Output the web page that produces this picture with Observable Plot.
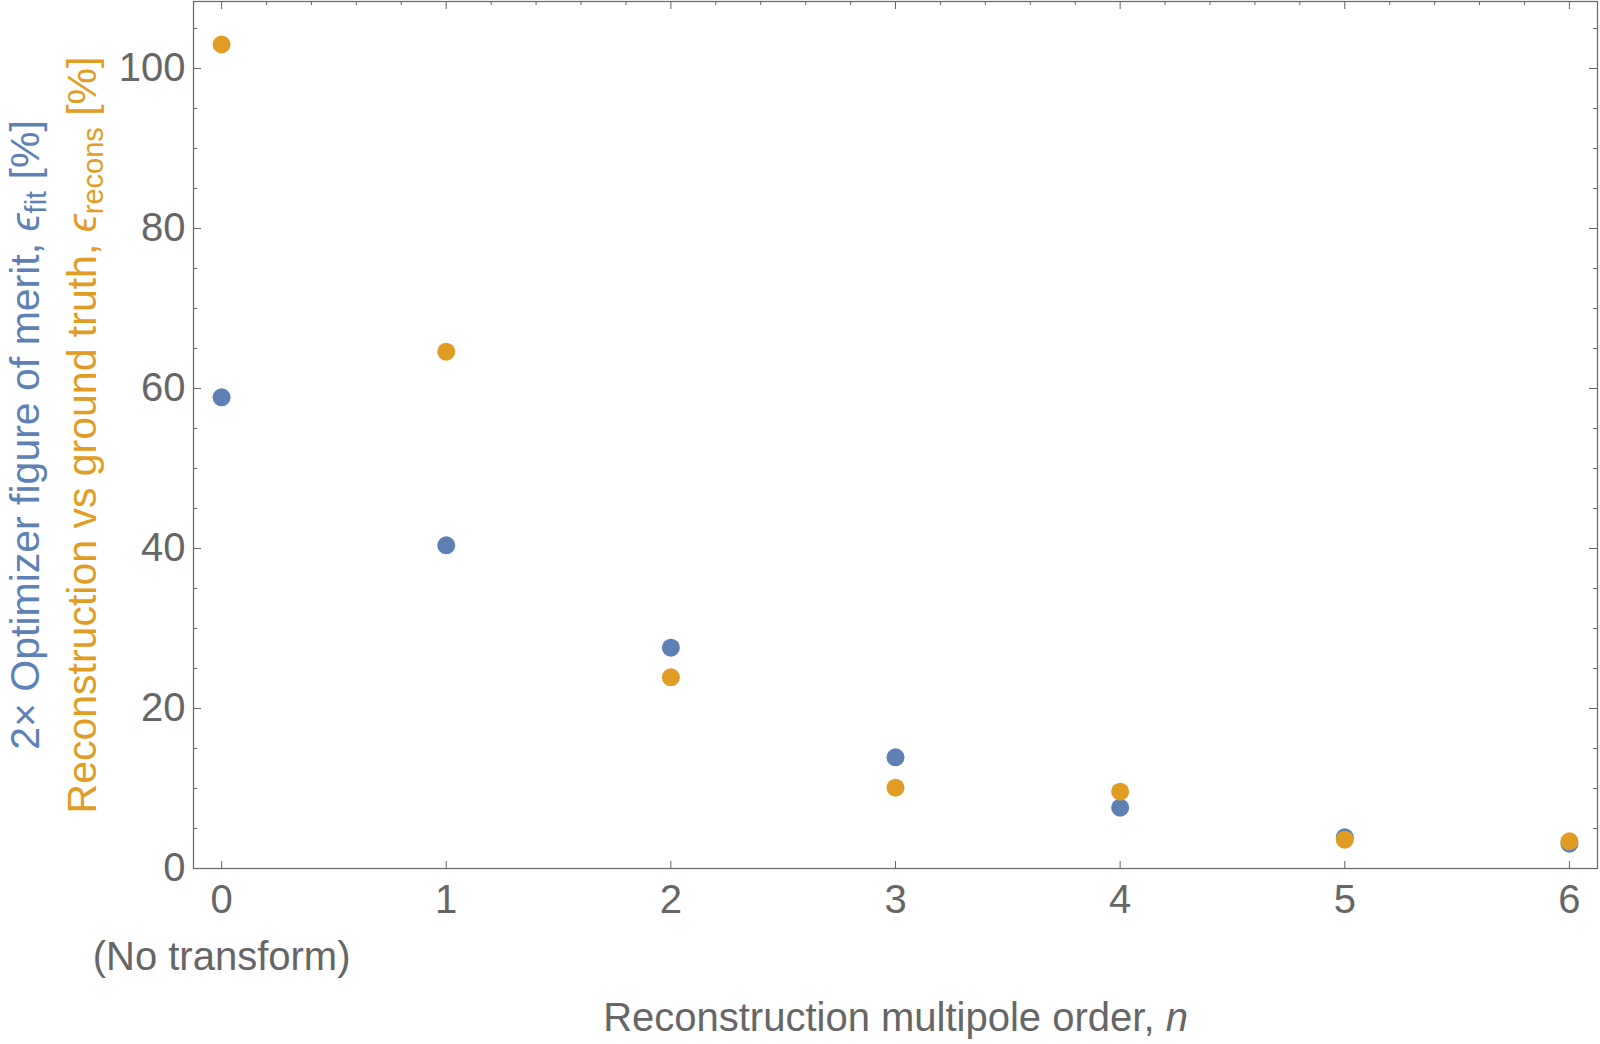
<!DOCTYPE html>
<html>
<head>
<meta charset="utf-8">
<script src="https://cdn.jsdelivr.net/npm/d3@7"></script>
<script src="https://cdn.jsdelivr.net/npm/@observablehq/plot@0.6"></script>
<style>
  html, body { margin: 0; padding: 0; background: #fff; }
</style>
</head>
<body>
<div id="chart"></div>
<script>
// ---- data ----
const order = [0, 1, 2, 3, 4, 5, 6];
const fitErr = [58.9, 40.4, 27.6, 13.9, 7.6, 3.9, 3.1];        // 2x optimizer figure of merit (blue)
const reconsErr = [103.0, 64.6, 23.9, 10.1, 9.6, 3.6, 3.4];    // reconstruction vs ground truth (orange)
const xTicks = [0, 1, 2, 3, 4, 5, 6];
const yTicks = [0, 20, 40, 60, 80, 100];
const yMinorTicks = d3.range(0, 106, 5).filter(v => v % 20 !== 0);
const xMinorTicks = d3.range(0, 31).map(i => i / 5).filter(v => !Number.isInteger(v));
const zeroNote = "(No transform)";
const labelFit = ["2× Optimizer figure of merit, ", "ϵ", "fit", " [%]"];
const labelRecons = ["Reconstruction vs ground truth, ", "ϵ", "recons", " [%]"];
const labelX = ["Reconstruction multipole order, ", "n"];

const blue = "#5E81B5";
const orange = "#E19C24";
const gray = "#666666";
const font = "Liberation Sans, Arial, Helvetica, sans-serif";

const rows = order.map((n, i) => ({n, fit: fitErr[i], recons: reconsErr[i]}));

const W = 1600, H = 1044, mL = 193, mR = 3, mT = 1, mB = 176;
const fw = W - mL - mR, fh = H - mT - mB;

const svg = Plot.plot({
  width: W, height: H,
  marginLeft: mL, marginRight: mR, marginTop: mT, marginBottom: mB,
  style: {fontFamily: font, fontSize: "40px", color: gray, background: "#fff"},
  x: {domain: [-0.125, 6.125]},
  y: {domain: [0, 108.375]},
  marks: [
    // ticks (inward, Mathematica-style frame ticks)
    Plot.tickX(xTicks, {x: d => d, stroke: gray, insetTop: fh - 7}),           // bottom
    Plot.tickX(xTicks, {x: d => d, stroke: gray, insetBottom: fh - 8}),        // top major
    Plot.tickX(xMinorTicks, {x: d => d, stroke: gray, insetBottom: fh - 4}),   // top minor
    Plot.tickY(yTicks, {y: d => d, stroke: gray, insetRight: fw - 8}),         // left major
    Plot.tickY(yMinorTicks, {y: d => d, stroke: gray, insetRight: fw - 4}),    // left minor
    Plot.tickY(yTicks, {y: d => d, stroke: gray, insetLeft: fw - 8}),          // right major
    Plot.tickY(yMinorTicks, {y: d => d, stroke: gray, insetLeft: fw - 4}),     // right minor
    Plot.frame({stroke: gray, strokeWidth: 1.2}),
    Plot.axisX({
      anchor: "bottom", ticks: xTicks, tickSize: 0, tickPadding: 4, label: null,
      tickFormat: d => d === 0 ? "0\n" + zeroNote : String(d),
      lineHeight: 1.425, fontSize: 40, fill: gray
    }),
    Plot.axisY({
      anchor: "left", ticks: yTicks, tickSize: 0, tickPadding: 8, label: null,
      tickFormat: d => String(d), fontSize: 40, fill: gray
    }),
    Plot.dot(rows, {x: "n", y: "fit", r: 9, fill: blue, stroke: "none"}),
    Plot.dot(rows, {x: "n", y: "recons", r: 9, fill: orange, stroke: "none"}),
    Plot.text([labelFit.join("")], {
      text: d => d, frameAnchor: "left", rotate: -90, dx: -155,
      textAnchor: "middle", lineAnchor: "bottom", fill: blue, fontSize: 41
    }),
    Plot.text([labelRecons.join("")], {
      text: d => d, frameAnchor: "left", rotate: -90, dx: -98,
      textAnchor: "middle", lineAnchor: "bottom", fill: orange, fontSize: 41
    }),
    Plot.text([labelX.join("")], {
      text: d => d, frameAnchor: "bottom", dy: 162,
      textAnchor: "middle", lineAnchor: "bottom", fill: gray, fontSize: 40
    })
  ]
});

// rich text: italic epsilon / n and subscripts
function enrich(parts, build) {
  const full = parts.join("");
  d3.select(svg).selectAll("text").filter(function () { return this.textContent === full; })
    .each(function () { const t = d3.select(this); t.text(null); build(t); });
}
enrich(labelFit, t => {
  t.append("tspan").text(labelFit[0]);
  t.append("tspan").attr("font-style", "italic").text(labelFit[1]);
  t.append("tspan").attr("font-size", "29px").attr("dy", 7).text(labelFit[2]);
  t.append("tspan").attr("dy", -7).text(labelFit[3]);
});
enrich(labelRecons, t => {
  t.append("tspan").text(labelRecons[0]);
  t.append("tspan").attr("font-style", "italic").text(labelRecons[1]);
  t.append("tspan").attr("font-size", "29px").attr("dy", 7).text(labelRecons[2]);
  t.append("tspan").attr("dy", -7).text(labelRecons[3]);
});
enrich(labelX, t => {
  t.append("tspan").text(labelX[0]);
  t.append("tspan").attr("font-style", "italic").text(labelX[1]);
});

document.getElementById("chart").appendChild(svg);
</script>
</body>
</html>
